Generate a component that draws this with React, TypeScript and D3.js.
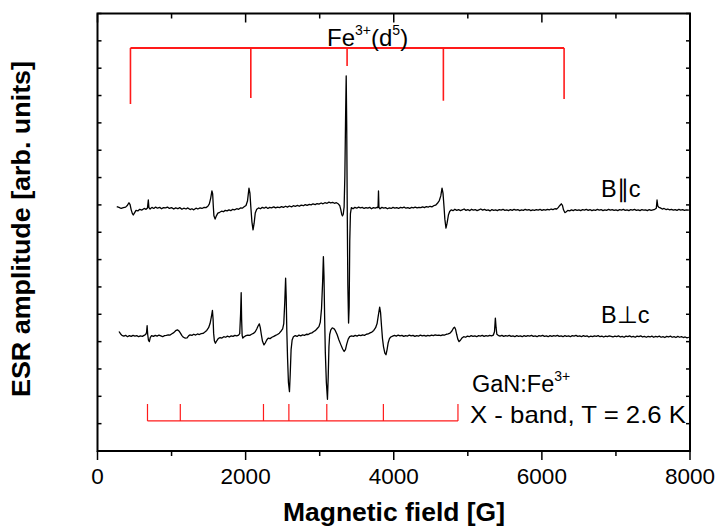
import React from "react";
import * as d3 from "d3";

const xMajorTicks = [0, 2000, 4000, 6000, 8000];
const xMinorTicks = [1000, 3000, 5000, 7000];
const yTicks = [0, 10, 20, 30, 40, 50, 60, 70, 80, 90, 100, 110, 120, 130, 140, 150, 160];
const fieldDomain = [0, 8000];
const ampDomain = [0, 160];

const parallelOffset = 88.8;
const perpOffset = 42.1;

const parallelTrace: [number, number][] = [
  [260,0.6],[290,0.3],[320,-0.1],[350,0.2],[380,0.4],[405,1.1],[425,2.0],[440,1.3],[455,-0.6],[470,-1.9],[483,-2.5],[500,-1.7],[520,-0.8],[545,-1.0],[570,-0.4],[600,-0.7],[630,-0.1],[655,-0.4],[675,0.1],[686,3.0],[694,0.2],[710,-0.3],[735,0.3],[760,-0.1],[785,0.4],[810,0.0],[840,0.3],[865,-0.2],[890,0.2],[920,0.1],[945,0.4],[970,-0.1],[1000,0.2],[1030,-0.3],[1055,0.1],[1085,-0.2],[1110,0.2],[1140,-0.4],[1165,0.0],[1195,-0.3],[1220,0.1],[1250,-0.5],[1275,-0.2],[1300,-0.6],[1330,0.0],[1355,-0.3],[1385,0.1],[1410,-0.1],[1440,0.3],[1465,0.2],[1490,0.7],[1510,1.6],[1528,3.6],[1545,6.3],[1555,5.2],[1563,1.0],[1572,-2.8],[1588,-4.0],[1605,-2.8],[1625,-1.8],[1650,-1.5],[1675,-1.1],[1700,-1.3],[1725,-0.8],[1750,-1.0],[1775,-0.6],[1800,-0.9],[1825,-0.4],[1850,-0.6],[1880,-0.2],[1905,-0.4],[1930,0.1],[1955,0.0],[1980,0.5],[2005,1.0],[2025,2.6],[2045,7.3],[2058,5.5],[2070,0.5],[2085,-5.0],[2100,-7.9],[2115,-5.5],[2130,-1.8],[2150,-0.4],[2175,0.1],[2200,-0.2],[2225,0.3],[2250,0.0],[2275,0.4],[2300,-0.1],[2325,0.3],[2350,0.1],[2380,0.5],[2405,0.1],[2430,0.4],[2460,0.2],[2485,0.6],[2510,0.3],[2540,0.7],[2565,0.4],[2590,0.8],[2620,0.5],[2645,0.9],[2670,0.7],[2700,1.0],[2725,0.7],[2750,1.1],[2780,0.9],[2805,1.3],[2830,1.0],[2860,1.4],[2885,1.2],[2910,1.6],[2940,1.3],[2965,1.7],[2990,1.5],[3020,1.9],[3045,1.6],[3070,2.0],[3100,1.8],[3125,2.2],[3150,1.9],[3175,2.1],[3200,1.8],[3225,2.0],[3250,1.6],[3270,1.0],[3285,-0.5],[3298,-2.3],[3308,-2.8],[3318,-2.2],[3330,0.5],[3340,12.0],[3350,34.0],[3358,48.4],[3365,30.0],[3372,0.0],[3380,-28.0],[3390,-42.0],[3398,-36.0],[3406,-12.0],[3415,-2.0],[3428,0.2],[3450,-0.2],[3475,0.3],[3500,0.0],[3525,0.4],[3550,0.1],[3575,0.3],[3600,-0.1],[3625,0.2],[3650,0.0],[3675,0.3],[3700,-0.2],[3725,0.2],[3750,0.0],[3775,0.3],[3788,0.2],[3794,6.3],[3800,0.3],[3815,-0.2],[3840,0.3],[3865,0.0],[3890,0.2],[3915,-0.2],[3940,0.1],[3965,-0.1],[3990,0.3],[4015,0.0],[4040,0.2],[4065,-0.1],[4090,0.3],[4115,0.1],[4140,0.4],[4165,0.0],[4190,0.2],[4215,-0.1],[4240,0.3],[4265,0.1],[4290,0.4],[4315,0.1],[4340,0.3],[4365,0.2],[4390,0.5],[4415,0.2],[4440,0.6],[4465,0.4],[4490,0.7],[4515,0.5],[4540,0.9],[4565,1.1],[4590,1.8],[4615,2.8],[4635,4.5],[4652,7.3],[4665,5.5],[4678,0.8],[4690,-4.0],[4705,-7.3],[4720,-5.5],[4738,-2.5],[4755,-1.2],[4775,-0.6],[4800,-0.9],[4825,-0.4],[4850,-0.8],[4875,-0.5],[4900,-0.9],[4925,-0.6],[4950,-0.3],[4975,-0.8],[5000,-0.5],[5025,-0.9],[5050,-0.4],[5075,-0.7],[5100,-0.5],[5125,-0.9],[5150,-0.6],[5175,-0.3],[5200,-0.7],[5225,-0.4],[5250,-0.8],[5275,-0.6],[5300,-1.0],[5325,-0.5],[5350,-0.8],[5375,-0.6],[5400,-0.9],[5425,-0.5],[5450,-0.7],[5475,-0.4],[5500,-0.8],[5525,-0.6],[5550,-0.9],[5575,-0.5],[5600,-0.8],[5625,-0.4],[5650,-0.7],[5675,-0.5],[5700,-0.9],[5725,-0.6],[5750,-0.8],[5775,-0.4],[5800,-0.7],[5825,-0.5],[5850,-0.9],[5875,-0.6],[5900,-0.8],[5925,-0.5],[5950,-0.7],[5975,-0.4],[6000,-0.8],[6025,-0.5],[6050,-0.7],[6075,-0.4],[6100,-0.6],[6125,-0.3],[6150,-0.5],[6175,-0.2],[6200,-0.3],[6220,0.2],[6240,0.9],[6262,1.6],[6278,1.0],[6292,-0.6],[6310,-1.6],[6330,-1.3],[6350,-0.8],[6375,-1.0],[6400,-0.6],[6425,-0.9],[6450,-0.5],[6475,-0.8],[6500,-0.6],[6525,-0.9],[6550,-0.5],[6575,-0.7],[6600,-0.4],[6625,-0.8],[6650,-0.5],[6675,-0.9],[6700,-0.6],[6725,-0.8],[6750,-0.4],[6775,-0.7],[6800,-0.5],[6825,-0.9],[6850,-0.6],[6875,-0.8],[6900,-0.4],[6925,-0.7],[6950,-0.5],[6975,-0.8],[7000,-0.6],[7025,-0.9],[7050,-0.5],[7075,-0.7],[7100,-0.4],[7125,-0.8],[7150,-0.6],[7175,-0.9],[7200,-0.5],[7225,-0.7],[7250,-0.4],[7275,-0.8],[7300,-0.6],[7325,-0.9],[7350,-0.5],[7375,-0.7],[7400,-0.6],[7425,-0.9],[7450,-0.5],[7475,-0.8],[7500,-0.6],[7525,-0.4],[7545,0.0],[7555,3.0],[7565,0.8],[7580,0.3],[7600,0.1],[7625,-0.3],[7650,-0.1],[7675,-0.5],[7700,-0.3],[7725,-0.6],[7750,-0.4],[7775,-0.7],[7800,-0.5],[7825,-0.8],[7850,-0.4],[7875,-0.7],[7900,-0.5],[7925,-0.8],[7950,-0.6],[7985,-0.7]
];

const perpTrace: [number, number][] = [
  [290,1.6],[310,0.8],[330,0.2],[355,-0.1],[380,0.2],[405,-0.3],[430,0.1],[455,-0.2],[480,0.2],[505,-0.1],[530,0.1],[555,-0.3],[580,0.0],[605,-0.2],[630,0.2],[650,0.5],[662,1.2],[670,3.7],[678,0.5],[688,-1.6],[700,-2.1],[712,-0.6],[730,0.1],[755,-0.2],[780,0.2],[805,-0.1],[830,0.3],[855,0.0],[880,-0.3],[905,0.1],[930,0.2],[955,0.4],[980,0.3],[1005,0.8],[1030,1.2],[1055,1.9],[1080,2.2],[1100,1.8],[1120,1.0],[1140,0.1],[1160,-0.5],[1185,-0.8],[1210,-0.7],[1230,0.0],[1250,0.4],[1275,0.2],[1300,0.6],[1325,0.3],[1350,0.7],[1375,0.5],[1400,0.8],[1425,0.9],[1450,1.4],[1475,2.0],[1500,3.0],[1520,4.5],[1538,7.0],[1552,9.3],[1561,6.0],[1568,1.0],[1578,-1.8],[1592,-2.7],[1610,-1.8],[1630,-1.0],[1655,-0.6],[1680,-0.8],[1705,-0.3],[1730,-0.5],[1755,-0.1],[1780,-0.4],[1805,0.0],[1830,-0.2],[1855,0.2],[1880,0.0],[1905,0.3],[1920,0.8],[1932,8.0],[1940,15.8],[1946,6.0],[1953,0.2],[1962,-0.8],[1980,-0.3],[2005,0.1],[2030,0.3],[2055,0.2],[2080,0.6],[2105,0.9],[2130,1.5],[2150,2.5],[2168,3.6],[2185,4.4],[2198,3.0],[2212,0.5],[2228,-2.0],[2248,-3.3],[2265,-2.6],[2285,-1.5],[2305,-0.8],[2330,-1.0],[2355,-0.5],[2380,-0.2],[2405,0.2],[2430,0.5],[2455,1.0],[2480,1.8],[2500,2.6],[2515,4.5],[2528,12.0],[2540,21.1],[2548,14.0],[2556,2.0],[2566,-8.0],[2578,-17.0],[2592,-20.4],[2602,-14.0],[2614,-5.0],[2628,-1.5],[2645,-0.3],[2670,0.1],[2695,-0.2],[2720,0.3],[2745,0.0],[2770,0.4],[2795,0.2],[2820,0.6],[2845,0.5],[2870,0.9],[2895,1.1],[2920,1.6],[2945,2.0],[2970,2.8],[2990,3.4],[3008,5.0],[3025,10.0],[3040,20.0],[3050,29.0],[3058,22.0],[3066,8.0],[3076,-6.0],[3090,-17.0],[3105,-23.2],[3115,-15.0],[3125,-4.0],[3135,0.5],[3150,2.2],[3170,2.9],[3190,2.7],[3210,2.0],[3235,0.5],[3260,-1.5],[3285,-3.2],[3310,-4.8],[3330,-5.7],[3348,-5.0],[3365,-3.0],[3385,-1.2],[3405,-0.3],[3430,0.0],[3455,-0.2],[3480,0.2],[3505,-0.1],[3530,0.3],[3555,0.1],[3580,0.4],[3605,0.2],[3630,0.6],[3655,0.7],[3680,1.1],[3705,1.4],[3730,2.0],[3755,3.0],[3775,4.5],[3792,7.5],[3810,10.5],[3822,8.5],[3835,3.5],[3848,-1.0],[3862,-4.0],[3880,-6.3],[3895,-6.9],[3910,-5.0],[3925,-2.5],[3942,-1.0],[3960,-0.4],[3985,-0.1],[4010,0.2],[4035,-0.1],[4060,0.3],[4085,0.0],[4110,0.2],[4135,-0.2],[4160,0.1],[4185,-0.1],[4210,0.3],[4235,0.0],[4260,0.2],[4285,-0.2],[4310,0.1],[4335,-0.1],[4360,0.3],[4385,0.0],[4410,0.2],[4435,-0.1],[4460,0.2],[4485,0.0],[4510,0.3],[4535,0.1],[4560,0.4],[4585,0.2],[4610,0.3],[4635,0.1],[4660,0.4],[4685,0.3],[4710,0.6],[4735,0.7],[4760,1.0],[4785,1.8],[4805,2.8],[4820,3.2],[4835,2.4],[4850,0.5],[4865,-1.2],[4882,-2.1],[4900,-1.6],[4920,-0.8],[4945,-0.3],[4970,-0.5],[4995,-0.1],[5020,-0.3],[5045,0.1],[5070,-0.2],[5095,0.0],[5120,-0.3],[5145,0.1],[5170,-0.1],[5195,0.2],[5220,-0.2],[5245,0.1],[5270,-0.1],[5295,0.2],[5320,0.0],[5345,0.3],[5360,1.5],[5372,6.5],[5382,3.0],[5392,0.6],[5410,0.2],[5435,-0.1],[5460,0.2],[5485,-0.2],[5510,0.1],[5535,-0.1],[5560,0.2],[5585,-0.2],[5610,0.0],[5635,-0.3],[5660,0.1],[5685,-0.2],[5710,0.0],[5735,-0.3],[5760,0.1],[5785,-0.2],[5810,0.1],[5835,-0.1],[5860,0.2],[5885,-0.2],[5910,0.0],[5935,-0.3],[5960,0.1],[5985,-0.1],[6010,0.2],[6035,-0.2],[6060,0.0],[6085,-0.3],[6110,0.1],[6135,-0.2],[6160,0.1],[6185,-0.1],[6210,0.2],[6235,-0.2],[6260,0.0],[6285,-0.3],[6310,0.1],[6335,-0.2],[6360,0.0],[6385,-0.3],[6410,0.1],[6435,-0.1],[6460,0.2],[6485,-0.2],[6510,0.0],[6535,-0.3],[6560,0.1],[6585,-0.2],[6610,0.0],[6635,-0.4],[6660,-0.1],[6685,-0.3],[6710,0.0],[6735,-0.2],[6760,0.1],[6785,-0.3],[6810,-0.1],[6835,-0.4],[6860,-0.1],[6885,-0.3],[6910,0.0],[6935,-0.2],[6960,-0.4],[6985,-0.1],[7010,-0.3],[7035,0.0],[7060,-0.4],[7085,-0.2],[7110,-0.5],[7135,-0.1],[7160,-0.3],[7185,0.0],[7210,-0.4],[7235,-0.2],[7260,-0.5],[7285,-0.1],[7310,-0.3],[7335,0.0],[7360,-0.4],[7385,-0.2],[7410,-0.5],[7435,-0.2],[7460,-0.4],[7485,-0.1],[7510,-0.5],[7535,-0.2],[7560,-0.4],[7585,-0.1],[7610,-0.5],[7635,-0.3],[7660,-0.6],[7685,-0.2],[7710,-0.4],[7735,-0.1],[7760,-0.5],[7785,-0.3],[7810,-0.6],[7835,-0.2],[7860,-0.5],[7885,-0.3],[7910,-0.6],[7935,-0.4],[7960,-0.7],[7985,-0.5]
];

const topCombFields = [445, 2070, 3370, 4670, 6300];
const topCombEnds = [126.9, 129.1, 140.8, 128.1, 128.7];
const topCombLevel = 147.4;
const bottomCombFields = [675, 1118, 2241, 2584, 3096, 3860, 4867];
const bottomCombTop = 17.2;
const bottomCombLevel = 11.0;

const W = 716;
const H = 531;
const plot = { left: 97.5, right: 690, top: 13.5, bottom: 451 };
const FONT = "'Liberation Sans', Arial, Helvetica, sans-serif";

export default function App() {
  const x = d3.scaleLinear().domain(fieldDomain).range([plot.left, plot.right]);
  const y = d3.scaleLinear().domain(ampDomain).range([plot.bottom, plot.top]);

  const lineFor = (offset: number) =>
    d3
      .line<[number, number]>()
      .x((d) => x(d[0]))
      .y((d) => y(d[1] + offset));

  const parPath = lineFor(parallelOffset)(parallelTrace) || "";
  const perpPath = lineFor(perpOffset)(perpTrace) || "";

  const red = "#ff1a1a";

  return (
    <svg
      width={W}
      height={H}
      viewBox={`0 0 ${W} ${H}`}
      style={{ position: "absolute", left: 0, top: 0, background: "#fff" }}
      fontFamily={FONT}
    >
      <rect x={0} y={0} width={W} height={H} fill="#fff" />

      {/* red combs */}
      <g stroke={red} fill="none">
        <line
          x1={x(topCombFields[0])}
          x2={x(topCombFields[topCombFields.length - 1])}
          y1={y(topCombLevel)}
          y2={y(topCombLevel)}
          strokeWidth={2}
        />
        {topCombFields.map((f, i) => (
          <line key={f} x1={x(f)} x2={x(f)} y1={y(topCombLevel)} y2={y(topCombEnds[i])} strokeWidth={1.6} />
        ))}
        <line
          x1={x(bottomCombFields[0])}
          x2={x(bottomCombFields[bottomCombFields.length - 1])}
          y1={y(bottomCombLevel)}
          y2={y(bottomCombLevel)}
          strokeWidth={1.3}
        />
        {bottomCombFields.map((f) => (
          <line key={f} x1={x(f)} x2={x(f)} y1={y(bottomCombTop)} y2={y(bottomCombLevel)} strokeWidth={1.2} />
        ))}
      </g>

      {/* spectra */}
      <path d={parPath} fill="none" stroke="#000" strokeWidth={1.3} strokeLinejoin="round" />
      <path d={perpPath} fill="none" stroke="#000" strokeWidth={1.3} strokeLinejoin="round" />

      {/* frame */}
      <rect
        x={plot.left}
        y={plot.top}
        width={plot.right - plot.left}
        height={plot.bottom - plot.top}
        fill="none"
        stroke="#000"
        strokeWidth={2}
      />

      {/* ticks */}
      <g stroke="#000" strokeWidth={1.5}>
        {yTicks.map((t) => (
          <g key={t}>
            <line x1={plot.left} x2={plot.left + 4} y1={y(t)} y2={y(t)} />
            <line x1={plot.right} x2={plot.right - 4} y1={y(t)} y2={y(t)} />
          </g>
        ))}
        {xMajorTicks.map((t) => (
          <g key={t}>
            <line x1={x(t)} x2={x(t)} y1={plot.bottom} y2={plot.bottom + 9} />
            <line x1={x(t)} x2={x(t)} y1={plot.top} y2={plot.top + 9} />
          </g>
        ))}
        {xMinorTicks.map((t) => (
          <g key={t}>
            <line x1={x(t)} x2={x(t)} y1={plot.bottom} y2={plot.bottom + 5} />
            <line x1={x(t)} x2={x(t)} y1={plot.top} y2={plot.top + 5} />
          </g>
        ))}
      </g>

      {/* tick labels */}
      <g fontSize={22.5} textAnchor="middle" fill="#000">
        {xMajorTicks.map((t) => (
          <text key={t} x={x(t)} y={484}>
            {t}
          </text>
        ))}
      </g>

      {/* axis titles */}
      <text x={394} y={521} textAnchor="middle" fontSize={26} fontWeight="bold" textLength={222} lengthAdjust="spacingAndGlyphs">
        Magnetic field [G]
      </text>
      <text
        transform="translate(30,229) rotate(-90)"
        textAnchor="middle"
        fontSize={26}
        fontWeight="bold"
        textLength={336}
        lengthAdjust="spacingAndGlyphs"
      >
        ESR amplitude [arb. units]
      </text>

      {/* annotations */}
      <text x={327} y={46} fontSize={24}>
        Fe
        <tspan fontSize={14} dy={-11}>3+</tspan>
        <tspan dy={11}>(d</tspan>
        <tspan fontSize={14} dy={-11}>5</tspan>
        <tspan dy={11}>)</tspan>
      </text>
      <text x={601} y={197} fontSize={23.5}>
        B∥c
      </text>
      <text x={601} y={323} fontSize={23.5}>
        B⊥c
      </text>
      <text x={472} y={392} fontSize={23.5}>
        GaN:Fe
        <tspan fontSize={14} dy={-11}>3+</tspan>
      </text>
      <text x={470} y={423} fontSize={24} textLength={216} lengthAdjust="spacingAndGlyphs">
        X - band, T = 2.6 K
      </text>
    </svg>
  );
}
